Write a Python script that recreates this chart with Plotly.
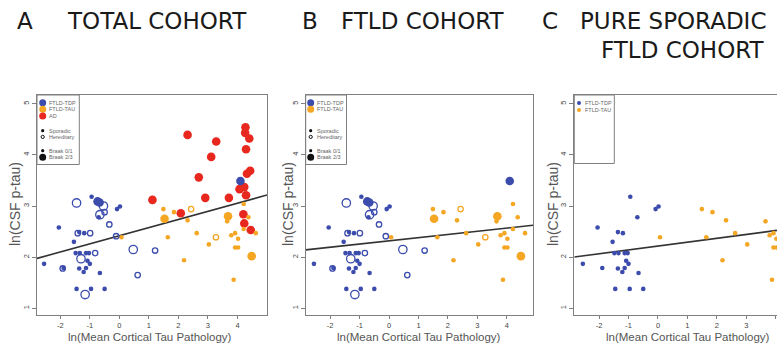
import plotly.graph_objects as go

W, H = 777, 348

# ---------------- data ----------------
# FTLD-TDP, sporadic, Braak 0/1
tdp_spor_small_x = [-2.55, -2.05, -1.89, -1.54, -1.48, -1.45, -1.36, -1.34, -1.36, -1.19, -1.21, -1.13,
                    -1.13, -1.08, -1.03, -1.00, -0.96, -0.94, -0.70, -0.66, -0.50, -0.08, 0.02]
tdp_spor_small_y = [1.87, 2.58, 1.79, 2.30, 2.08, 1.38, 2.49, 2.08, 1.78, 2.47, 1.71, 1.79,
                    2.08, 1.93, 2.08, 1.87, 1.38, 3.18, 2.78, 1.69, 1.38, 2.94, 2.99]
# FTLD-TDP, hereditary, Braak 0/1
tdp_her_small_x = [-1.41, -0.99, -1.92, -0.82, -0.50, -0.34, -0.11, 1.21, 0.62]
tdp_her_small_y = [2.47, 2.47, 1.78, 2.08, 2.88, 2.64, 2.41, 2.13, 1.65]
# FTLD-TDP, hereditary, Braak 2/3
tdp_her_large_x = [-1.45, -0.54, -0.66, -1.30, -1.16, 0.47]
tdp_her_large_y = [3.06, 3.00, 2.83, 1.97, 1.27, 2.15]
# FTLD-TDP, sporadic, Braak 2/3
tdp_spor_large_x = [-0.74, -0.67, 4.10]
tdp_spor_large_y = [3.09, 3.07, 3.49]

# FTLD-TAU, sporadic, Braak 0/1
tau_spor_small_x = [0.07, 1.49, 1.64, 1.85, 2.19, 2.31, 2.62, 3.03, 3.65, 3.79, 3.87, 3.92,
                    3.92, 4.02, 4.02, 4.21, 4.21, 4.37, 4.62]
tau_spor_small_y = [2.39, 2.94, 2.39, 2.88, 1.94, 2.72, 2.47, 2.25, 2.70, 2.43, 1.56, 2.47,
                    2.19, 2.19, 2.36, 3.04, 2.55, 2.78, 2.47]
# FTLD-TAU, hereditary, Braak 0/1
tau_her_small_x = [2.43, 3.27]
tau_her_small_y = [2.94, 2.39]
# FTLD-TAU, sporadic, Braak 2/3
tau_spor_large_x = [1.53, 3.68, 4.48]
tau_spor_large_y = [2.75, 2.80, 2.02]

# AD, sporadic, Braak 2/3
ad_x = [1.12, 2.08, 2.31, 2.69, 2.91, 3.11, 3.28, 3.71, 4.07, 4.23, 4.27, 4.26,
        4.40, 4.29, 4.32, 4.43, 4.29, 4.20, 4.23, 4.45]
ad_y = [3.12, 2.86, 4.39, 3.56, 3.16, 3.96, 4.26, 3.16, 3.33, 3.37, 4.54, 4.43,
        4.32, 4.11, 3.63, 3.69, 3.21, 2.84, 2.66, 2.53]

# regression lines (intercept, slope) for panels A, B, C
fit_intercepts = [2.42, 2.32, 2.218]
fit_slopes = [0.159, 0.0623, 0.0758]

panel_letters = ["A", "B", "C"]
panel_titles = ["TOTAL COHORT", "FTLD COHORT", "PURE SPORADIC"]
x_ticks = [-2, -1, 0, 1, 2, 3, 4]
y_ticks = [1, 2, 3, 4, 5]
x_title = "ln(Mean Cortical Tau Pathology)"
y_title = "ln(CSF p-tau)"
legend_groups = ["FTLD-TDP", "FTLD-TAU", "AD"]
legend_heredity = ["Sporadic", "Hereditary"]
legend_braak = ["Braak 0/1", "Braak 2/3"]

# ---------------- styling / layout ----------------
BLUE = "#3b4cad"
ORANGE = "#f5a623"
RED = "#e8281e"
GRAY = "#808080"
TXT = "#555555"
SMALL, LARGE = 4.6, 8.6


def fx(px):
    return px / W


def fy(py):
    return (H - py) / H


# panel pixel boxes: left, right, and x-ranges
boxes = [
    dict(l=37.0, r=267.0, xr=[-2.79, 5.0]),
    dict(l=305.7, r=533.0, xr=[-2.83, 4.89]),
    dict(l=574.3, r=777.0, xr=[-2.84, 4.04]),
]
TOP, BOT = 95.0, 315.0
YR = [0.87, 5.17]

fig = go.Figure()


def add_pts(i, xs, ys, color, size, open_=False):
    sfx = "" if i == 0 else str(i + 1)
    fig.add_trace(go.Scatter(
        x=xs, y=ys, mode="markers", xaxis="x" + sfx, yaxis="y" + sfx,
        marker=dict(
            symbol="circle-open" if open_ else "circle",
            size=size,
            color=color,
            line=dict(width=1.3 if open_ else 0, color=color),
        ),
        hoverinfo="x+y", showlegend=False,
    ))


for i in range(3):
    sfx = "" if i == 0 else str(i + 1)
    xr = boxes[i]["xr"]
    # regression line across the plot region
    fig.add_trace(go.Scatter(
        x=xr, y=[fit_intercepts[i] + fit_slopes[i] * v for v in xr],
        mode="lines", line=dict(color="#333333", width=1.6),
        xaxis="x" + sfx, yaxis="y" + sfx, showlegend=False, hoverinfo="skip",
    ))
    if i == 0:
        add_pts(i, ad_x, ad_y, RED, LARGE)
    if i < 2:
        add_pts(i, tau_spor_small_x, tau_spor_small_y, ORANGE, SMALL)
        add_pts(i, tau_her_small_x, tau_her_small_y, ORANGE, SMALL + 0.8, open_=True)
        add_pts(i, tau_spor_large_x, tau_spor_large_y, ORANGE, LARGE)
        add_pts(i, tdp_spor_small_x, tdp_spor_small_y, BLUE, SMALL)
        add_pts(i, tdp_her_small_x, tdp_her_small_y, BLUE, SMALL + 0.8, open_=True)
        add_pts(i, tdp_her_large_x, tdp_her_large_y, BLUE, LARGE - 0.2, open_=True)
        add_pts(i, tdp_spor_large_x, tdp_spor_large_y, BLUE, LARGE)
    else:
        add_pts(i, tau_spor_small_x, tau_spor_small_y, ORANGE, SMALL)
        add_pts(i, tdp_spor_small_x, tdp_spor_small_y, BLUE, SMALL)

layout = dict(
    width=W, height=H, margin=dict(l=0, r=0, t=0, b=0),
    paper_bgcolor="white", plot_bgcolor="white", showlegend=False,
    font=dict(family="Liberation Sans, Arial, sans-serif", color=TXT),
)
for i in range(3):
    b = boxes[i]
    sfx = "" if i == 0 else str(i + 1)
    layout["xaxis" + sfx] = dict(
        domain=[fx(b["l"]), fx(b["r"])], range=b["xr"], anchor="y" + sfx,
        showgrid=False, zeroline=False, showline=True, mirror=True,
        linecolor=GRAY, linewidth=1, ticks="outside", ticklen=3, tickcolor=GRAY,
        tickvals=x_ticks, ticktext=[str(v) for v in x_ticks],
        tickfont=dict(size=7.5, color="#444444"), ticklabelstandoff=0,
    )
    layout["yaxis" + sfx] = dict(
        domain=[fy(BOT), fy(TOP)], range=YR, anchor="x" + sfx,
        showgrid=False, zeroline=False, showline=True, mirror=(i < 2),
        linecolor=GRAY, linewidth=1, ticks="outside", ticklen=4, tickcolor=GRAY,
        tickvals=y_ticks, ticktext=[str(v) for v in y_ticks], tickangle=-90,
        tickfont=dict(size=7.5, color="#444444"),
    )
fig.update_layout(**layout)

ann = []
shapes = []

# panel titles
TFONT = dict(family="DejaVu Sans, Verdana, sans-serif", size=23, color="#1a1a1a")
letter_x = [15, 300, 540]
title_x = [65, 339, 578]
for i in range(3):
    ann.append(dict(text=panel_letters[i], x=fx(letter_x[i]), y=fy(20.5), xref="paper", yref="paper",
                    xanchor="left", yanchor="middle", showarrow=False, font=TFONT))
    ann.append(dict(text=panel_titles[i], x=fx(title_x[i]), y=fy(20.5), xref="paper", yref="paper",
                    xanchor="left", yanchor="middle", showarrow=False, font=TFONT))
ann.append(dict(text="FTLD COHORT", x=fx(767), y=fy(50.5), xref="paper", yref="paper",
                xanchor="right", yanchor="middle", showarrow=False, font=TFONT))

# axis titles
ylab_x = [15, 288, 553]
xlab_x = [150, 419, 688]
for i in range(3):
    ann.append(dict(text=y_title, x=fx(ylab_x[i]), y=fy(204), xref="paper", yref="paper",
                    xanchor="center", yanchor="middle", textangle=-90, showarrow=False,
                    font=dict(size=14, color=TXT)))
    ann.append(dict(text=x_title, x=fx(xlab_x[i]), y=fy(337), xref="paper", yref="paper",
                    xanchor="center", yanchor="middle", showarrow=False,
                    font=dict(size=11.5, color=TXT)))


# legends (drawn keys)
def key(px, py, d, color, open_=False):
    shapes.append(dict(
        type="circle", xref="paper", yref="paper", xsizemode="pixel", ysizemode="pixel",
        xanchor=fx(px), yanchor=fy(py), x0=-d / 2, x1=d / 2, y0=-d / 2, y1=d / 2,
        fillcolor="rgba(0,0,0,0)" if open_ else color,
        line=dict(color=color, width=1 if open_ else 0),
    ))


def ltext(px, py, s):
    ann.append(dict(text=s, x=fx(px), y=fy(py), xref="paper", yref="paper", xanchor="left",
                    yanchor="middle", showarrow=False, font=dict(size=5.5, color="#666666")))


group_colors = [BLUE, ORANGE, RED]
for i, (kx, rx, bot) in enumerate([(42.7, 79.3, 164.5), (310.7, 346.5, 164.5)]):
    shapes.append(dict(type="rect", xref="paper", yref="paper", x0=fx(boxes[i]["l"]), x1=fx(rx),
                       y0=fy(bot), y1=fy(TOP), line=dict(color=GRAY, width=1)))
    ng = 3 if i == 0 else 2
    for g in range(ng):
        yy = 102.7 + 6.6 * g
        key(kx, yy, 7, group_colors[g])
        ltext(kx + 4.5, yy, legend_groups[g])
    key(kx, 130.7, 3.2, "#111111")
    ltext(kx + 4.5, 130.7, legend_heredity[0])
    key(kx, 136.9, 3.2, "#111111", open_=True)
    ltext(kx + 4.5, 136.9, legend_heredity[1])
    key(kx, 150.7, 3.2, "#111111")
    ltext(kx + 4.5, 150.7, legend_braak[0])
    key(kx, 157.3, 7, "#111111")
    ltext(kx + 4.5, 157.3, legend_braak[1])

# panel C legend
shapes.append(dict(type="rect", xref="paper", yref="paper", x0=fx(boxes[2]["l"]), x1=fx(614.3),
                   y0=fy(163.5), y1=fy(TOP), line=dict(color=GRAY, width=1)))
for g in range(2):
    yy = 103 + 7 * g
    key(579, yy, 4, group_colors[g])
    ltext(582.5, yy, legend_groups[g])

fig.update_layout(annotations=ann, shapes=shapes)
fig.write_html("out.html", config={"displayModeBar": False},
               post_script="document.body.style.margin='0';document.body.style.overflow='hidden';")
